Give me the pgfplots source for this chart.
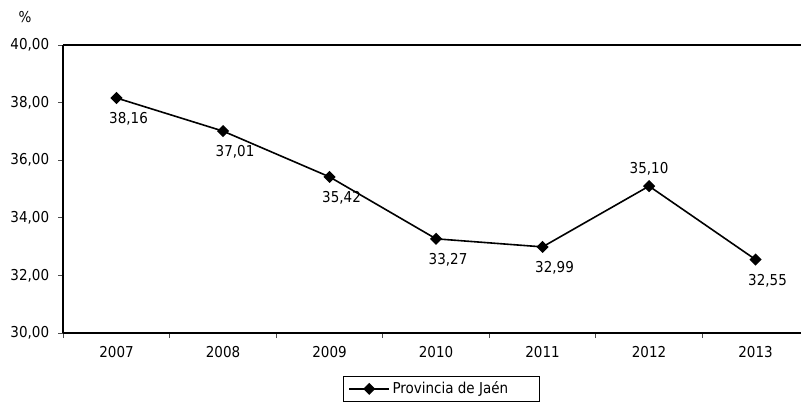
\documentclass[border=0pt]{standalone}
\usepackage{fontspec}
\setmainfont{DejaVu Sans Condensed}
\usepackage{pgfplots}
\pgfplotsset{compat=1.18}
\usepackage{pgfplotstable}
\pgfplotstableread{
x y dx dy
0 38.16 12 -21
1 37.01 12 -21
2 35.42 12 -21
3 33.27 12 -21
4 32.99 12 -21
5 35.10 0 17
6 32.55 12 -21
}\datatable
\begin{document}
\fontsize{15bp}{18bp}\selectfont
\begin{tikzpicture}
\coordinate (axisorigin) at (63.3bp,73bp);
\begin{axis}[
  at={(axisorigin)}, anchor=south west,
  scale only axis, width=745.5bp, height=288bp,
  xmin=-0.5, xmax=6.5, ymin=30, ymax=40,
  xtick={-0.5,0.5,...,6.5},
  x tick label as interval,
  xticklabels={2007,2008,2009,2010,2011,2012,2013},
  ytick={30,32,...,40},
  axis line style={line width=1.8bp},
  tick align=outside,
  major tick length=5bp,
  tick style={line width=0.8bp, color=black!70},
  yticklabel style={xshift=-4bp, /pgf/number format/.cd, fixed, fixed zerofill, precision=2, use comma, assume math mode=true},
  xticklabel style={yshift=-3bp, /pgf/number format/assume math mode=true},
  axis x line*=bottom, axis y line*=left,
  legend style={at={(0.507,-0.194)}, anchor=center, draw=black, line width=0.8bp,
    inner xsep=5bp, inner ysep=3bp, nodes={inner xsep=2.5bp}},
  legend image code/.code={\draw[mark repeat=2,mark phase=2,#1] plot coordinates {(0bp,0bp) (20bp,0bp) (40bp,0bp)};},
  clip=false,
]
\draw[line width=1.8bp] (rel axis cs:0,1) -- (rel axis cs:1,1) -- (rel axis cs:1,0);
\addplot[black, line width=1.6bp, mark=square*, mark size=3.5bp, mark options={rotate=45, solid},
  visualization depends on={\thisrow{dx} \as \ldx},
  visualization depends on={\thisrow{dy} \as \ldy},
  nodes near coords={\pgfmathprintnumber[fixed,fixed zerofill,precision=2,use comma,assume math mode=true]{\pgfplotspointmeta}},
  nodes near coords style={anchor=center, xshift=\ldx bp, yshift=\ldy bp, black},
  point meta=explicit] table[x=x, y=y, meta=y] {\datatable};
\addlegendentry{\makebox[139bp][l]{Provincia de Jaén}}
\end{axis}
\node at (25bp,389bp) {\%};
\pgfresetboundingbox
\useasboundingbox (0bp,0bp) rectangle (801bp,406bp);
\end{tikzpicture}
\end{document}
